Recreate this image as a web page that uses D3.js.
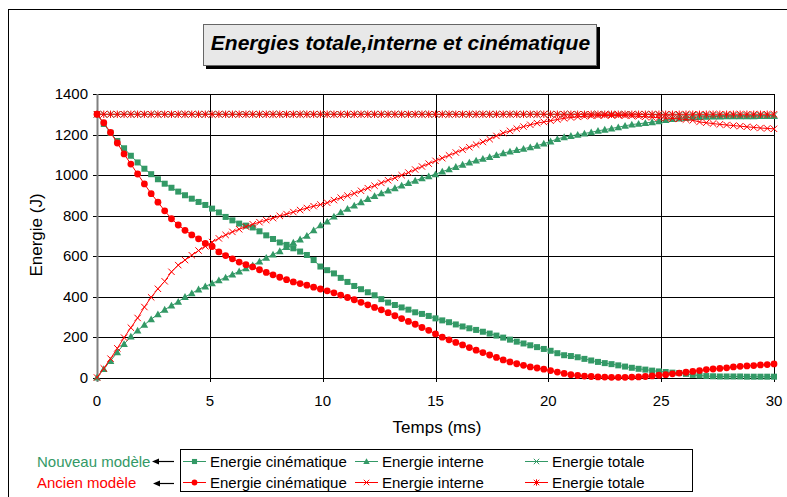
<!DOCTYPE html>
<html><head><meta charset="utf-8">
<script src="https://cdn.jsdelivr.net/npm/d3@7"></script>
<style>
body{margin:0;background:#fff}
svg{display:block}
text{font-family:"Liberation Sans",Arial,sans-serif;fill:#000}
</style>
</head><body>
<svg id="c" width="787" height="497"></svg>
<script>
// ---------- DATA ----------
const title = "Energies totale,interne et cinématique";
const xTitle = "Temps (ms)";
const yTitle = "Energie (J)";
const xTicks = [0,5,10,15,20,25,30];
const yTicks = [0,200,400,600,800,1000,1200,1400];

const times = [0,0.3,0.6,0.9,1.2,1.5,1.8,2.1,2.4,2.7,
3,3.3,3.6,3.9,4.2,4.5,4.8,5.1,5.4,5.7,
6,6.3,6.6,6.9,7.2,7.5,7.8,8.1,8.4,8.7,
9,9.3,9.6,9.9,10.2,10.5,10.8,11.1,11.4,11.7,
12,12.3,12.6,12.9,13.2,13.5,13.8,14.1,14.4,14.7,
15,15.3,15.6,15.9,16.2,16.5,16.8,17.1,17.4,17.7,
18,18.3,18.6,18.9,19.2,19.5,19.8,20.1,20.4,20.7,
21,21.3,21.6,21.9,22.2,22.5,22.8,23.1,23.4,23.7,
24,24.3,24.6,24.9,25.2,25.5,25.8,26.1,26.4,26.7,
27,27.3,27.6,27.9,28.2,28.5,28.8,29.1,29.4,29.7,
30];

// Nouveau modèle
const newCin = [1300,1252,1208,1168,1132,1095,1062,1031,1004,979,
957,937,918,900,883,867,852,834,815,793,
776,760,750,741,722,702,684,667,655,638,
622,605,580,548,530,514,492,472,452,436,
421,406,387,370,358,346,335,322,314,304,
292,282,273,262,252,243,235,226,217,207,
197,187,177,168,159,150,141,132,120,110,
106,100,92,84,77,71,66,60,54,48,
43,39,34,30,27,24,22,18,13,10,
7,6,5,5,5,5,4,4,4,4,
4];
const newInt = [0,42,82,125,165,202,232,260,288,312,
335,355,374,398,416,435,450,465,480,494,
509,524,539,554,573,591,607,624,645,666,
682,700,727,752,770,795,816,833,849,866,
882,896,910,923,935,948,960,972,984,994,
1004,1017,1028,1040,1051,1062,1071,1080,1089,1099,
1108,1116,1123,1130,1137,1145,1155,1166,1178,1187,
1193,1199,1205,1211,1218,1224,1230,1236,1243,1249,
1253,1257,1261,1266,1272,1276,1279,1282,1285,1287,
1288,1289,1289,1290,1290,1290,1290,1290,1291,1291,
1291];
const newTot = [1300,1300,1300,1300,1300,1300,1300,1300,1300,1300,
1300,1300,1300,1300,1300,1300,1300,1300,1300,1300,
1300,1300,1300,1300,1300,1300,1300,1300,1300,1300,
1300,1300,1300,1300,1300,1300,1300,1300,1300,1300,
1300,1300,1300,1300,1300,1300,1300,1300,1300,1300,
1300,1300,1300,1300,1300,1300,1300,1300,1300,1300,
1300,1300,1300,1300,1300,1300,1300,1300,1300,1300,
1300,1300,1300,1300,1300,1300,1300,1300,1300,1300,
1299,1299,1298,1298,1297,1297,1296,1296,1295,1295,
1295,1295,1294,1294,1294,1294,1294,1294,1294,1294,
1294];

// Ancien modèle
const oldCin = [1300,1258,1210,1158,1104,1054,1005,956,908,866,
823,784,753,727,704,685,662,647,620,602,
586,570,557,546,532,519,507,495,483,472,
464,456,446,437,428,418,407,395,384,371,
359,346,334,320,305,291,277,263,247,233,
215,199,186,173,161,148,135,123,111,99,
87,77,68,60,52,47,41,34,27,20,
14,10,7,5,3,2,1,1,1,2,
3,5,8,11,14,18,22,26,30,34,
39,42,45,48,52,55,57,59,62,64,
67];
const oldInt = [0,45,93,144,197,246,294,348,396,438,
475,522,555,580,604,627,648,669,687,704,
719,732,745,757,767,777,787,798,807,817,
827,837,846,854,863,876,888,898,909,922,
935,947,961,974,986,999,1012,1027,1042,1056,
1070,1083,1097,1111,1125,1137,1150,1163,1177,1193,
1207,1218,1229,1239,1248,1256,1262,1268,1274,1280,
1284,1287,1290,1292,1293,1294,1294,1294,1293,1292,
1290,1288,1285,1283,1281,1279,1277,1274,1270,1262,
1258,1254,1250,1247,1244,1241,1238,1235,1232,1230,
1228];
const oldTot = [1300,1300,1300,1300,1300,1300,1300,1300,1300,1300,
1300,1300,1300,1300,1300,1300,1300,1300,1300,1300,
1300,1300,1300,1300,1300,1300,1300,1300,1300,1300,
1300,1300,1300,1300,1300,1300,1300,1300,1300,1300,
1300,1300,1300,1300,1300,1300,1300,1300,1300,1300,
1300,1300,1300,1300,1300,1300,1300,1300,1300,1300,
1300,1300,1300,1300,1300,1300,1300,1300,1300,1300,
1300,1300,1300,1300,1300,1300,1300,1300,1300,1300,
1300,1300,1300,1300,1300,1300,1300,1300,1300,1300,
1300,1300,1300,1300,1300,1300,1300,1300,1300,1300,
1300];

const seriesNames = ["Energie cinématique","Energie interne","Energie totale"];
const modelNames = ["Nouveau modèle","Ancien modèle"];

// ---------- STYLE ----------
const GREEN = "#339966", RED = "#ff0000";
const series = [
  {vals:newTot, color:GREEN, marker:"x"},
  {vals:newCin, color:GREEN, marker:"square"},
  {vals:newInt, color:GREEN, marker:"triangle"},
  {vals:oldTot, color:RED, marker:"star"},
  {vals:oldCin, color:RED, marker:"circle"},
  {vals:oldInt, color:RED, marker:"x"}
];

const svg = d3.select("#c");
const x = d3.scaleLinear().domain([0,30]).range([97,774]);
const y = d3.scaleLinear().domain([0,1400]).range([377.5,94]);

// outer frame
svg.append("rect").attr("x",8.5).attr("y",9.5).attr("width",820).attr("height",520)
  .attr("fill","none").attr("stroke","#000").attr("stroke-width",1);

// title box
svg.append("rect").attr("x",206).attr("y",27).attr("width",394).attr("height",42).attr("fill","#000");
svg.append("rect").attr("x",203.5).attr("y",24.5).attr("width",393).attr("height",41)
  .attr("fill","#e8e8e8").attr("stroke","#666");
svg.append("text").attr("x",400.5).attr("y",50).attr("text-anchor","middle")
  .style("font-size","21px").style("font-weight","bold").style("font-style","italic")
  .text(title);

// grid
const g = svg.append("g");
g.selectAll("line.h").data(yTicks).join("line")
  .attr("x1",93).attr("x2",x(30)).attr("y1",d=>Math.round(y(d))+0.5).attr("y2",d=>Math.round(y(d))+0.5)
  .attr("stroke","#000").attr("stroke-width",1);
g.selectAll("line.v").data(xTicks.filter(d=>d>0)).join("line")
  .attr("y1",y(1400)).attr("y2",382).attr("x1",d=>Math.round(x(d))+0.5).attr("x2",d=>Math.round(x(d))+0.5)
  .attr("stroke","#000").attr("stroke-width",1);
// y axis line
g.append("line").attr("x1",97.5).attr("x2",97.5).attr("y1",y(1400)).attr("y2",382)
  .attr("stroke","#808080").attr("stroke-width",2);

// tick labels
svg.selectAll("text.yt").data(yTicks).join("text").attr("class","yt")
  .attr("x",88).attr("y",d=>y(d)).attr("dy","0.36em").attr("text-anchor","end")
  .style("font-size","15px").text(d=>d);
svg.selectAll("text.xt").data(xTicks).join("text").attr("class","xt")
  .attr("x",d=>x(d)).attr("y",405.5).attr("text-anchor","middle")
  .style("font-size","15px").text(d=>d);

// axis titles
svg.append("text").attr("x",437).attr("y",433).attr("text-anchor","middle")
  .style("font-size","17px").text(xTitle);
svg.append("text").attr("transform","translate(42,235) rotate(-90)").attr("text-anchor","middle")
  .style("font-size","17px").text(yTitle);

// marker drawing
function drawMarker(sel, type, color, cx, cy, s){
  s = s || 1;
  if(type==="square"){
    sel.append("rect").attr("x",cx-3*s).attr("y",cy-3*s).attr("width",6*s).attr("height",6*s).attr("fill",color);
  } else if(type==="triangle"){
    sel.append("path").attr("d",`M${cx},${cy-3.8*s}L${cx+3.8*s},${cy+3*s}L${cx-3.8*s},${cy+3*s}Z`).attr("fill",color);
  } else if(type==="circle"){
    sel.append("circle").attr("cx",cx).attr("cy",cy).attr("r",3.4*s).attr("fill",color);
  } else if(type==="x"){
    const r=3.2*s;
    sel.append("path").attr("d",`M${cx-r},${cy-r}L${cx+r},${cy+r}M${cx-r},${cy+r}L${cx+r},${cy-r}`)
      .attr("stroke",color).attr("stroke-width",1).attr("fill","none");
  } else if(type==="star"){
    const r=3.2*s;
    sel.append("path").attr("d",`M${cx-r},${cy-r}L${cx+r},${cy+r}M${cx-r},${cy+r}L${cx+r},${cy-r}M${cx},${cy-r-0.5}L${cx},${cy+r+0.5}`)
      .attr("stroke",color).attr("stroke-width",1).attr("fill","none");
  }
}

// series
const line = d3.line().x((d,i)=>x(times[i])).y(d=>y(d));
series.forEach(s=>{
  const sg = svg.append("g");
  sg.append("path").datum(s.vals).attr("d",line).attr("fill","none").attr("stroke",s.color).attr("stroke-width",1);
  s.vals.forEach((v,i)=>drawMarker(sg, s.marker, s.color, x(times[i]), y(v)));
});

// legend
svg.append("rect").attr("x",180.5).attr("y",449.5).attr("width",512).attr("height",42)
  .attr("fill","#fff").attr("stroke","#000");
const colX = [183,355,525];
const rowY = [461,482];
const legendMarkers = [["square","triangle","x"],["circle","x","star"]];
const rowColors = [GREEN, RED];
rowY.forEach((ry,r)=>{
  colX.forEach((cx,c)=>{
    const lg = svg.append("g");
    lg.append("line").attr("x1",cx).attr("x2",cx+23).attr("y1",ry+0.5).attr("y2",ry+0.5)
      .attr("stroke",rowColors[r]).attr("stroke-width",1);
    drawMarker(lg, legendMarkers[r][c], rowColors[r], cx+11.5, ry+0.5, 0.85);
    lg.append("text").attr("x",cx+27).attr("y",ry+5.5).style("font-size","15px").text(seriesNames[c]);
  });
  svg.append("text").attr("x",37).attr("y",ry+5.5).style("font-size","15px")
    .style("fill",rowColors[r]).text(modelNames[r]);
});
// arrows
[[461,152],[483,153]].forEach(([ay,ax])=>{
  svg.append("line").attr("x1",ax+5).attr("x2",174).attr("y1",ay+0.5).attr("y2",ay+0.5)
    .attr("stroke","#000").attr("stroke-width",1.2);
  svg.append("path").attr("d",`M${ax},${ay+0.5}L${ax+7},${ay-2.5}L${ax+7},${ay+3.5}Z`).attr("fill","#000");
});
</script>
</body></html>
